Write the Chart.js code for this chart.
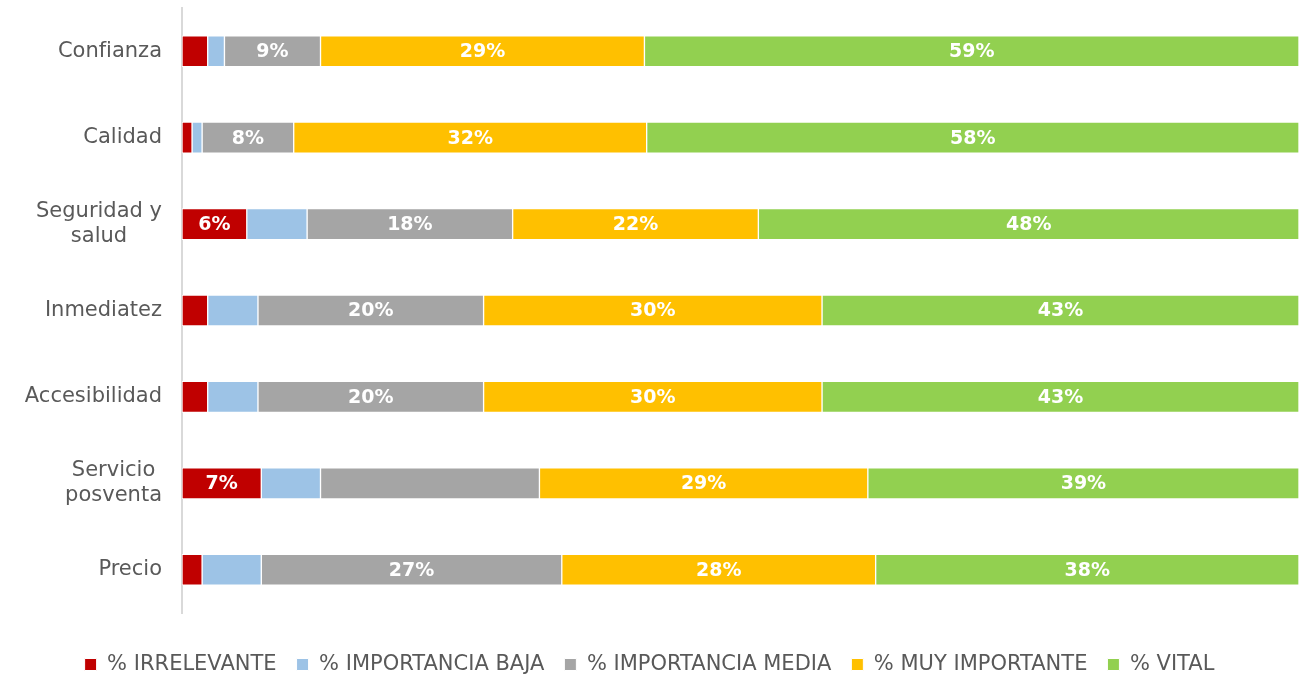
<!DOCTYPE html>
<html lang="es">
<head>
    <meta charset="UTF-8">
    <title>Importancia de atributos</title>
    <script src="https://cdn.jsdelivr.net/npm/chart.js"></script>
    <style>
        body { margin: 0; background: #fff; overflow: hidden; }
        #wrap { width: 1300px; height: 685px; }
    </style>
</head>
<body>
    <div id="wrap"><canvas id="chart"></canvas></div>
    <script>
        // categorías (eje Y)
        const categories = [
            "Confianza",
            "Calidad",
            ["Seguridad y", "salud"],
            "Inmediatez",
            "Accesibilidad",
            ["Servicio", "posventa"],
            "Precio"
        ];

        // series (% por categoría)
        const irrelevante      = [2.3, 0.9, 5.8, 2.3, 2.3, 7.1, 1.8];
        const importanciaBaja  = [1.5, 0.9, 5.4, 4.5, 4.5, 5.3, 5.3];
        const importanciaMedia = [8.6, 8.2, 18.4, 20.2, 20.2, 19.6, 26.9];
        const muyImportante    = [29.0, 31.6, 22.0, 30.3, 30.3, 29.4, 28.1];
        const vital            = [58.6, 58.4, 48.4, 42.7, 42.7, 38.6, 37.9];

        // qué etiquetas se muestran (1 = sí)
        const showIrrelevante = [0, 0, 1, 0, 0, 1, 0];
        const showBaja        = [0, 0, 0, 0, 0, 0, 0];
        const showMedia       = [1, 1, 1, 1, 1, 0, 1];
        const showMuy         = [1, 1, 1, 1, 1, 1, 1];
        const showVital       = [1, 1, 1, 1, 1, 1, 1];

        const FONT = "'DejaVu Sans', sans-serif";

        // etiquetas blancas dentro de las barras
        const barLabels = {
            id: "barLabels",
            afterDatasetsDraw(chart) {
                const ctx = chart.ctx;
                ctx.save();
                ctx.fillStyle = "#ffffff";
                ctx.font = "bold 19px " + FONT;
                ctx.textAlign = "center";
                ctx.textBaseline = "middle";
                chart.data.datasets.forEach((ds, i) => {
                    const meta = chart.getDatasetMeta(i);
                    meta.data.forEach((bar, j) => {
                        if (!ds.show[j]) return;
                        const cx = (bar.x + bar.base) / 2;
                        ctx.fillText(Math.round(ds.data[j]) + "%", cx, bar.y + 1);
                    });
                });
                ctx.restore();
            }
        };

        // etiquetas de categoría (líneas centradas entre sí, bloque alineado a la derecha)
        const catLabels = {
            id: "catLabels",
            afterDraw(chart) {
                const ctx = chart.ctx;
                const y = chart.scales.y;
                const right = y.right - 20;
                const lh = 25;
                ctx.save();
                ctx.fillStyle = "#595959";
                ctx.font = "21px " + FONT;
                ctx.textAlign = "center";
                ctx.textBaseline = "middle";
                chart.data.labels.forEach((lab, i) => {
                    const lines = Array.isArray(lab) ? lab : [lab];
                    const w = Math.max(...lines.map(t => ctx.measureText(t).width));
                    const cx = right - w / 2;
                    const cy = y.getPixelForValue(i);
                    lines.forEach((t, k) => {
                        ctx.fillText(t, cx, cy + (k - (lines.length - 1) / 2) * lh);
                    });
                });
                ctx.restore();
            }
        };

        const makeSet = (label, data, color, show) => ({
            label: label,
            data: data,
            show: show,
            backgroundColor: color,
            borderColor: "#ffffff",
            borderWidth: 1,
            borderSkipped: false,
            barThickness: 31
        });

        new Chart(document.getElementById("chart"), {
            type: "bar",
            data: {
                labels: categories,
                datasets: [
                    makeSet("% IRRELEVANTE", irrelevante, "#C00000", showIrrelevante),
                    makeSet("% IMPORTANCIA BAJA", importanciaBaja, "#9DC3E6", showBaja),
                    makeSet("% IMPORTANCIA MEDIA", importanciaMedia, "#A5A5A5", showMedia),
                    makeSet("% MUY IMPORTANTE", muyImportante, "#FFC000", showMuy),
                    makeSet("% VITAL", vital, "#92D050", showVital)
                ]
            },
            options: {
                indexAxis: "y",
                responsive: true,
                maintainAspectRatio: false,
                animation: false,
                layout: { padding: { top: 8, right: 1, bottom: 0, left: 0 } },
                scales: {
                    x: {
                        stacked: true,
                        min: 0,
                        max: 100,
                        grid: { display: false },
                        border: { display: false },
                        ticks: { display: false },
                        afterFit: s => { s.height = 21; }
                    },
                    y: {
                        stacked: true,
                        grid: { display: false, drawTicks: false },
                        border: { display: true, color: "#d9d9d9", width: 2 },
                        ticks: { display: false },
                        afterFit: s => { s.width = 182; }
                    }
                },
                plugins: {
                    legend: {
                        position: "bottom",
                        labels: {
                            color: "#595959",
                            boxWidth: 12,
                            boxHeight: 12,
                            padding: 20,
                            font: { family: FONT, size: 21 }
                        }
                    },
                    tooltip: { enabled: false }
                }
            },
            plugins: [barLabels, catLabels]
        });
    </script>
</body>
</html>
